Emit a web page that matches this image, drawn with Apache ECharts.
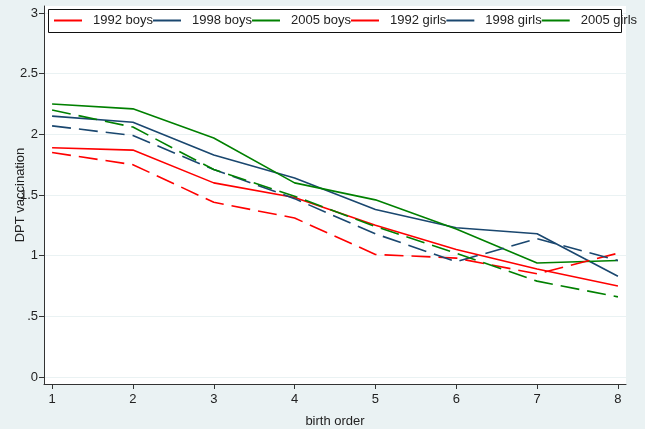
<!DOCTYPE html>
<html>
<head>
<meta charset="UTF-8">
<title>DPT vaccination by birth order</title>
<script src="https://cdn.jsdelivr.net/npm/echarts@6/dist/echarts.min.js"></script>
<style>
  html, body { margin: 0; padding: 0; background: #eaf2f3; }
  #main { width: 645px; height: 429px; }
</style>
</head>
<body>
<div id="main"></div>
<script>
// birth order on x
var birthOrder = [1, 2, 3, 4, 5, 6, 7, 8];
var yTicks = [0, 0.5, 1, 1.5, 2, 2.5, 3];

var boys1992 = [1.89, 1.87, 1.60, 1.48, 1.25, 1.05, 0.89, 0.75];
var boys1998 = [2.15, 2.10, 1.83, 1.64, 1.38, 1.23, 1.18, 0.83];
var boys2005 = [2.25, 2.21, 1.97, 1.60, 1.46, 1.22, 0.94, 0.96];
var girls1992 = [1.85, 1.75, 1.44, 1.31, 1.01, 0.98, 0.85, 1.02];
var girls1998 = [2.07, 1.99, 1.71, 1.47, 1.18, 0.95, 1.14, 0.96];
var girls2005 = [2.20, 2.06, 1.71, 1.49, 1.24, 1.02, 0.79, 0.66];

var seriesNames = ['1992 boys', '1998 boys', '2005 boys', '1992 girls', '1998 girls', '2005 girls'];
var seriesValues = [boys1992, boys1998, boys2005, girls1992, girls1998, girls2005];
var colors = ['#ff0000', '#1a476f', '#008000', '#ff0000', '#1a476f', '#008000'];

var chart = echarts.init(document.getElementById('main'));

var series = seriesNames.map(function (name, i) {
  return {
    name: name,
    type: 'line',
    symbol: 'none',
    animation: false,
    data: birthOrder.map(function (x, j) { return [x, seriesValues[i][j]]; }),
    lineStyle: {
      color: colors[i],
      width: 1.6,
      type: i < 3 ? 'solid' : [19, 8]
    },
    itemStyle: { color: colors[i] }
  };
});

var option = {
  backgroundColor: '#eaf2f3',
  textStyle: { fontFamily: 'Liberation Sans, Arial, sans-serif' },
  grid: {
    left: 44, right: 19, top: 6, bottom: 45,
    outerBoundsMode: 'none',
    show: true, backgroundColor: '#ffffff', borderWidth: 0
  },
  // legend frame (Stata draws it narrower than the last label)
  graphic: [{
    type: 'rect', left: 48, top: 9, z: 3,
    shape: { width: 573, height: 23 },
    style: { fill: '#ffffff', stroke: '#111111', lineWidth: 1 }
  }],
  legend: {
    left: 54, top: 14, padding: 0, itemGap: 0,
    icon: 'rect', itemWidth: 28, itemHeight: 2, z: 5,
    textStyle: { fontSize: 13, color: '#222', width: 59, overflow: 'none', padding: [0, 0, 0, 6] },
    data: seriesNames
  },
  xAxis: {
    type: 'value', min: 0.9, max: 8.1,
    name: 'birth order', nameLocation: 'middle', nameGap: 31,
    nameMoveOverlap: false,
    nameTextStyle: { fontSize: 13, color: '#222' },
    axisLine: { show: true, onZero: false, lineStyle: { color: '#333', width: 1 } },
    axisTick: { show: true, length: 5, customValues: birthOrder, lineStyle: { color: '#333' } },
    axisLabel: { customValues: birthOrder, fontSize: 13, color: '#222', margin: 9 },
    splitLine: { show: false }
  },
  yAxis: {
    type: 'value', min: -0.058, max: 3.058,
    name: 'DPT vaccination', nameLocation: 'middle', nameGap: 17,
    nameMoveOverlap: false,
    nameTextStyle: { fontSize: 13, color: '#222' },
    axisLine: { show: true, onZero: false, lineStyle: { color: '#333', width: 1 } },
    axisTick: { show: true, length: 5, customValues: yTicks, lineStyle: { color: '#333' } },
    axisLabel: {
      customValues: yTicks, fontSize: 13, color: '#222', margin: 6,
      formatter: function (v) { return String(v).replace(/^0\./, '.'); }
    },
    splitLine: { show: true, lineStyle: { color: '#eaf2f3', width: 1 } }
  },
  series: series
};

chart.setOption(option);
</script>
</body>
</html>
